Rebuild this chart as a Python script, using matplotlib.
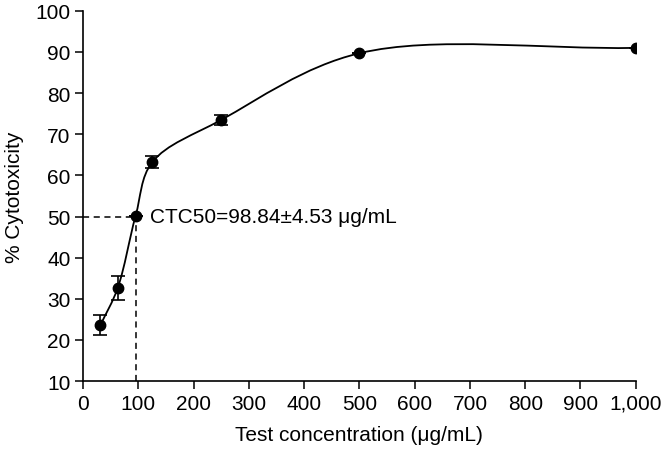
import numpy as np
import matplotlib
matplotlib.use("Agg")
import matplotlib.pyplot as plt
from matplotlib.path import Path
from matplotlib.patches import PathPatch

conc = [31.25, 62.5, 95.0, 125, 250, 500, 1000]
cyto = [23.6, 32.6, 50.2, 63.2, 73.5, 89.7, 91.0]
err = [2.5, 3.0, 0.0, 1.5, 1.3, 0.0, 0.0]
ctc50_x = 95.0
xticks = [0, 100, 200, 300, 400, 500, 600, 700, 800, 900, 1000]
xticklabels = ["0", "100", "200", "300", "400", "500", "600", "700", "800", "900", "1,000"]
yticks = [10, 20, 30, 40, 50, 60, 70, 80, 90, 100]

plt.rcParams['font.family'] = ['Liberation Sans', 'DejaVu Sans']


def catmull_rom_display(ax, x, y, alpha=0.5):
    # non-uniform Catmull-Rom spline computed in screen space, returned in data coords
    P = ax.transData.transform(np.column_stack([x, y]))
    n = len(P)
    d = np.linalg.norm(np.diff(P, axis=0), axis=1) ** alpha
    m = np.zeros_like(P)
    m[0] = (P[1] - P[0]) / d[0]
    m[-1] = (P[-1] - P[-2]) / d[-1]
    for i in range(1, n - 1):
        m[i] = (P[i] - P[i - 1]) / d[i - 1] - (P[i + 1] - P[i - 1]) / (d[i - 1] + d[i]) + (P[i + 1] - P[i]) / d[i]
    verts = [P[0]]
    codes = [Path.MOVETO]
    for i in range(n - 1):
        c1 = P[i] + m[i] * d[i] / 3.0
        c2 = P[i + 1] - m[i + 1] * d[i] / 3.0
        verts += [c1, c2, P[i + 1]]
        codes += [Path.CURVE4] * 3
    verts = ax.transData.inverted().transform(np.array(verts))
    return Path(verts, codes)


fig = plt.figure(figsize=(6.65, 4.56), dpi=100)
ax = fig.add_axes([0.125, 0.162, 0.831, 0.812])
ax.set_xlim(0, 1000)
ax.set_ylim(10, 100)

ax.add_patch(PathPatch(catmull_rom_display(ax, conc, cyto), fill=False, edgecolor='black', lw=1.3))
ax.errorbar(conc, cyto, yerr=err, fmt='o', color='black', ms=7.5, capsize=5, elinewidth=1.2, capthick=1.2, zorder=3)

ax.plot([0, ctc50_x], [50, 50], ls=(0, (4, 3)), color='black', lw=1.1)
ax.plot([ctc50_x, ctc50_x], [10, 50], ls=(0, (4, 3)), color='black', lw=1.1)
ax.text(121, 50, "CTC50=98.84±4.53 μg/mL", fontsize=15, va='center', ha='left')

ax.set_xticks(xticks)
ax.set_xticklabels(xticklabels)
ax.set_yticks(yticks)
ax.tick_params(labelsize=15, length=6, width=1.1, direction='out', pad=3)
ax.spines['top'].set_visible(False)
ax.spines['right'].set_visible(False)
ax.spines['left'].set_linewidth(1.2)
ax.spines['bottom'].set_linewidth(1.2)
ax.set_xlabel("Test concentration (μg/mL)", fontsize=15, labelpad=9)
ax.set_ylabel("% Cytotoxicity", fontsize=15, labelpad=8)

fig.savefig("out.png", dpi=100)
